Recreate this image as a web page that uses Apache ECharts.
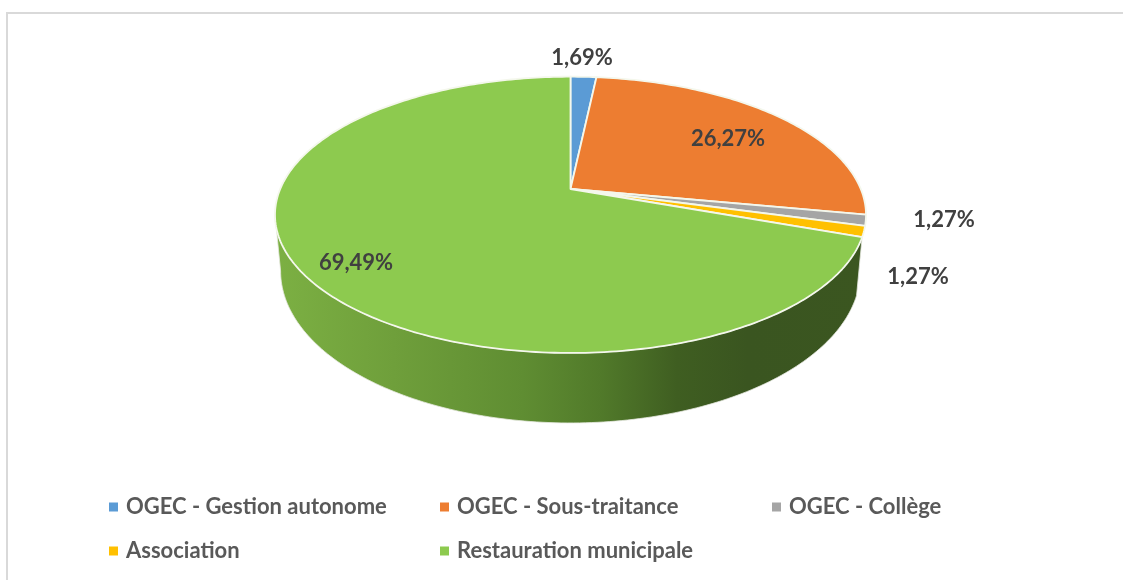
<!DOCTYPE html>
<html><head><meta charset="utf-8">
<style>html,body{margin:0;padding:0;background:#fff}#c{width:1123px;height:580px}</style>
<script src="https://cdn.jsdelivr.net/npm/echarts@6/dist/echarts.min.js"></script>
</head><body><div id="c"></div>
<script>
const categories = ['OGEC - Gestion autonome','OGEC - Sous-traitance','OGEC - Collège','Association','Restauration municipale'];
const values = [1.69,26.27,1.27,1.27,69.49];
const valueLabels = ['1,69%','26,27%','1,27%','1,27%','69,49%'];
const colors = ['#5b9bd5','#ed7d31','#a5a5a5','#ffc000','#8dca4f'];

// layout (pixels)
const labelPos = [[582,58],[728,139],[944,220],[918,277],[356,263]];
const legendPos = [[104,494],[435,494],[767,494],[104,538],[435,538]];
const apex = [570.5,189], A = 290.3, B = 133.3, K = 0.187;
const wallDrop = 53.6, wallScaleX = 0.981, wallScaleY = 1.1;
const silhouette = 360 - Math.acos(-K)*180/Math.PI;
const total = values.reduce((a,b)=>a+b,0);

function rim(deg, drop, sx, sy){
  const t = deg*Math.PI/180, u = Math.sin(t), v = -Math.cos(t), w = 1-K*v;
  return [apex[0]+sx*A*u/w, apex[1]+drop+sy*B*v/w];
}
function arc(a0,a1,drop,sx,sy){
  const pts=[], n=Math.max(2,Math.ceil((a1-a0)/1));
  for(let i=0;i<=n;i++) pts.push(rim(a0+(a1-a0)*i/n,drop,sx,sy));
  return pts;
}
const wallGrad = new echarts.graphic.LinearGradient(275,0,866,0,[
  {offset:0,color:'#7cb043'},{offset:0.2,color:'#6f9f3b'},{offset:0.42,color:'#5f8d32'},
  {offset:0.55,color:'#517a2a'},{offset:0.68,color:'#3f5e21'},{offset:0.8,color:'#3a5520'},{offset:1,color:'#3b5620'}],true);

function makeRender(idx){
  return function(params,api){
    const val = api.value(0);
    let start = 0; for(let i=0;i<idx;i++) start += values[i];
    const a0 = start/total*360, a1 = (start+val)/total*360;
    const children = [];
    if(idx===values.length-1){
      const end = Math.min(a1,silhouette);
      const top = arc(a0,end,0,1,1), bot = arc(a0,end,wallDrop,wallScaleX,wallScaleY).reverse();
      children.push({type:'polygon',shape:{points:top.concat(bot)},style:{fill:wallGrad,stroke:'#e6e8df',lineWidth:0.8}});
    }
    children.push({type:'polygon',shape:{points:[apex].concat(arc(a0,a1,0,1,1))},
      style:{fill:colors[idx],stroke:'#f4f7ec',lineWidth:1.8,lineJoin:'round'}});
    children.push({type:'text',z2:10,x:labelPos[idx][0],y:labelPos[idx][1],
      style:{text:valueLabels[idx],fill:'#404040',font:'bold 22px Lato, Carlito, sans-serif',align:'center',verticalAlign:'middle'}});
    return {type:'group',children};
  };
}

const chart = echarts.init(document.getElementById('c'),null,{renderer:'canvas'});
chart.setOption({
  animation:false,
  backgroundColor:'#fff',
  graphic:[{type:'polyline',shape:{points:[[7,580],[7,13],[1123,13]]},style:{stroke:'#d9d9d9',lineWidth:2,fill:null},silent:true}],
  legend:categories.map((c,i)=>({
    data:[{name:c,icon:'rect',itemStyle:{color:colors[i]}}],
    left:legendPos[i][0],top:legendPos[i][1],itemWidth:9,itemHeight:9,padding:[2,0,2,5],
    selectedMode:false,
    textStyle:{color:'#595959',fontSize:22,fontWeight:'bold',fontFamily:'Lato, Carlito, sans-serif',padding:[0,0,0,3]}
  })),
  series:categories.map((c,i)=>({
    type:'custom',name:c,coordinateSystem:'none',silent:true,
    itemStyle:{color:colors[i]},
    data:[[values[i]]],renderItem:makeRender(i)
  }))
});
</script></body></html>
